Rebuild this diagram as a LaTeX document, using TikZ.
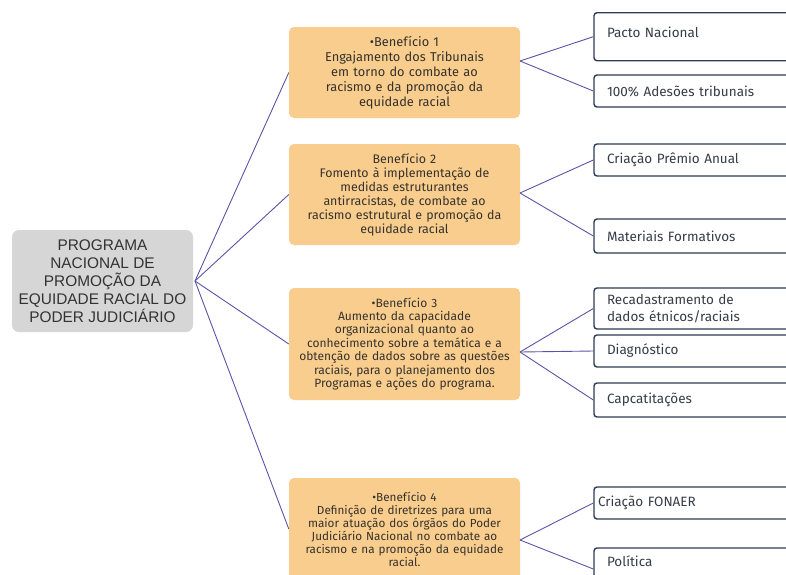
\documentclass[tikz,border=0pt]{standalone}
\usepackage{fontspec}
\newfontfamily\rootfont{Liberation Sans}
\newfontfamily\benfont{Fira Sans}
\definecolor{rootfill}{HTML}{D6D6D6}
\definecolor{roottext}{HTML}{333333}
\definecolor{benfill}{HTML}{F9CD8D}
\definecolor{bentext}{HTML}{35322D}
\definecolor{navy}{HTML}{2E3B55}
\definecolor{itemtext}{HTML}{363C48}
\definecolor{link}{HTML}{5B55A8}
\begin{document}
\begin{tikzpicture}[x=1pt,y=-1pt,
  rootbox/.style={fill=rootfill, draw=none, rounded corners=7pt, align=center,
    text=roottext, font=\rootfont\fontsize{15.4}{18}\selectfont, inner sep=0pt},
  benbox/.style={fill=benfill, draw=none, rounded corners=5pt, align=center,
    text=bentext, minimum width=231pt, inner sep=0pt, text width=229pt},
  itembox/.style={fill=white, draw=navy, line width=1.4pt, rounded corners=3pt,
    align=left, text=itemtext, font=\benfont\fontsize{13.5}{16.5}\selectfont,
    minimum width=206pt, text width=180pt, inner xsep=13pt, inner ysep=0pt},
  linkline/.style={draw=link, line width=0.9pt}]
\clip (0,0) rectangle (786,574);
\fill[white] (0,0) rectangle (786,574);

% root
\node[rootbox, minimum width=181pt, minimum height=102pt] (root) at (102.5,281)
  {PROGRAMA\\NACIONAL DE\\PROMOÇÃO DA\\EQUIDADE RACIAL DO\\PODER JUDICIÁRIO};
\coordinate (hub) at (195,281);

% benefits
\node[benbox, minimum height=91pt, font=\benfont\fontsize{12.8}{15}\selectfont] (b1) at (404.5,72.5)
  {•Benefício 1\\Engajamento dos Tribunais\\em torno do combate ao\\racismo e da promoção da\\equidade racial};
\node[benbox, minimum height=101pt, font=\benfont\fontsize{12.4}{14}\selectfont] (b2) at (404.5,194.5)
  {Benefício 2\\Fomento à implementação de\\medidas estruturantes\\antirracistas, de combate ao\\racismo estrutural e promoção da\\equidade racial};
\node[benbox, minimum height=112pt, font=\benfont\fontsize{12}{13.4}\selectfont] (b3) at (404.5,344)
  {•Benefício 3\\Aumento da capacidade\\organizacional quanto ao\\conhecimento sobre a temática e a\\obtenção de dados sobre as questões\\raciais, para o planejamento dos\\Programas e ações do programa.};
\node[benbox, minimum height=102pt, font=\benfont\fontsize{11.7}{13}\selectfont] (b4) at (404.5,529)
  {•Benefício 4\\Definição de diretrizes para uma\\maior atuação dos órgãos do Poder\\Judiciário Nacional no combate ao\\racismo e na promoção da equidade\\racial.};

\coordinate (r1) at (520,61);
\coordinate (r2) at (520,193);
\coordinate (r3) at (520,352);
\coordinate (r4) at (520,540);

% items
\node[itembox, minimum height=48pt, text height=10pt, text depth=9pt] (pacto) at (697,36.7) {Pacto Nacional};
\node[itembox, minimum height=32pt] (adesoes) at (697,91) {100\% Adesões tribunais};
\node[itembox, minimum height=32pt] (premio) at (697,160) {Criação Prêmio Anual};
\node[itembox, minimum height=34pt] (materiais) at (697,236) {Materiais Formativos};
\node[itembox, minimum height=41pt] (recad) at (697,308.5) {Recadastramento de\\dados étnicos/raciais};
\node[itembox, minimum height=32pt] (diag) at (697,351) {Diagnóstico};
\node[itembox, minimum height=34pt] (capac) at (697,400) {Capcatitações};
\node[itembox, minimum height=32pt, inner xsep=4pt, text width=198pt] (fonaer) at (697,503) {Criação FONAER};
\node[itembox, minimum height=42pt, text height=10pt, text depth=16pt] (politica) at (697,569) {Política};

% connectors
\draw[linkline] (hub) -- (b1.west);
\draw[linkline] (hub) -- (b2.west);
\draw[linkline] (hub) -- (b3.west);
\draw[linkline] (hub) -- (b4.west);

\draw[linkline] (r1) -- (pacto.west);
\draw[linkline] (r1) -- (adesoes.west);
\draw[linkline] (r2) -- (premio.west);
\draw[linkline] (r2) -- (materiais.west);
\draw[linkline] (r3) -- (recad.west);
\draw[linkline] (r3) -- (diag.west);
\draw[linkline] (r3) -- (capac.west);
\draw[linkline] (r4) -- (fonaer.west);
\draw[linkline] (r4) -- (politica.west);
\end{tikzpicture}
\end{document}
